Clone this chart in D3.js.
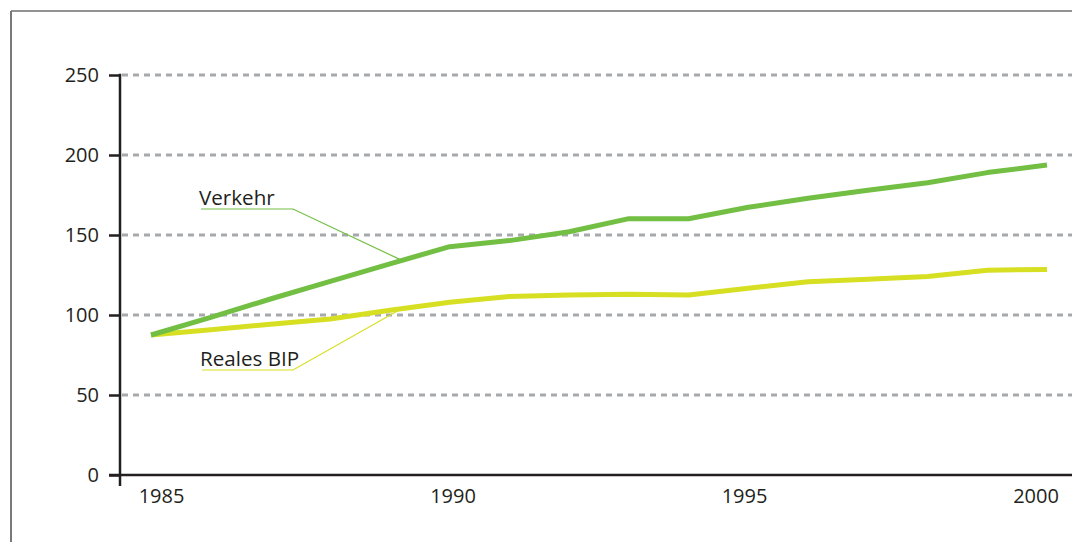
<!DOCTYPE html>
<html lang="de">
<head>
<meta charset="utf-8">
<script src="https://cdn.jsdelivr.net/npm/d3@7"></script>
<style>
  html, body { margin: 0; padding: 0; background: #fff; }
  svg text { font-family: "Open Sans", "Noto Sans", sans-serif; fill: #231f20; }
</style>
</head>
<body>
<svg id="chart" width="1072" height="542"></svg>
<script>
// Jahre und Indexwerte (1985 = Ausgangsniveau)
const years = [1985, 1986, 1987, 1988, 1989, 1990, 1991, 1992, 1993, 1994, 1995, 1996, 1997, 1998, 1999, 2000];
const verkehr = [87.5, 98.5, 110, 121, 132, 142.7, 146.5, 152, 160.2, 160.2, 167.3, 173, 178, 182.7, 189, 193.8];
const realesBIP = [87.5, 90.8, 94.2, 97.5, 103, 108, 111.5, 112.5, 113, 112.5, 116.7, 120.8, 122.3, 124, 128, 128.5];
const yTicks = [0, 50, 100, 150, 200, 250];
const xTickLabels = [1985, 1990, 1995, 2000];

const svg = d3.select("#chart");

const x = d3.scaleLinear().domain([1985, 2000]).range([151, 1047]);
const xLabel = d3.scaleLinear().domain([1985, 2000]).range([161.5, 1036]);
const y = d3.scaleLinear().domain([0, 250]).range([475, 75]);

// Rahmen
svg.append("line").attr("x1", 11).attr("x2", 11).attr("y1", 11).attr("y2", 542)
  .attr("stroke", "#4d4d4f").attr("stroke-width", 1.5);
svg.append("line").attr("x1", 11).attr("x2", 1072).attr("y1", 11).attr("y2", 11)
  .attr("stroke", "#6d6e71").attr("stroke-width", 1.5);

// Gestrichelte Hilfslinien
svg.append("g").selectAll("line")
  .data(yTicks.filter(d => d > 0))
  .join("line")
  .attr("x1", 122).attr("x2", 1072)
  .attr("y1", d => y(d)).attr("y2", d => y(d))
  .attr("stroke", "#a7a9ac").attr("stroke-width", 2.8)
  .attr("stroke-dasharray", "6 5");

// y-Achse
const yAxis = d3.axisLeft(y).tickValues(yTicks).tickSize(11).tickPadding(10).tickSizeOuter(0);
const gy = svg.append("g").attr("transform", "translate(120,0)").call(yAxis);
gy.select(".domain").remove();
gy.selectAll(".tick line").attr("stroke", "#231f20").attr("stroke-width", 2.5);
gy.selectAll(".tick text").attr("font-size", 20).attr("fill", "#231f20")
  .attr("font-family", "'Open Sans', 'Noto Sans', sans-serif");
svg.append("line").attr("x1", 120).attr("x2", 120).attr("y1", y(250) - 1.2).attr("y2", 486)
  .attr("stroke", "#231f20").attr("stroke-width", 2.5);

// x-Achse
svg.append("line").attr("x1", 109).attr("x2", 1072).attr("y1", y(0)).attr("y2", y(0))
  .attr("stroke", "#231f20").attr("stroke-width", 2.5);
svg.append("g").selectAll("text")
  .data(xTickLabels)
  .join("text")
  .attr("x", d => xLabel(d)).attr("y", 503)
  .attr("text-anchor", "middle").attr("font-size", 20)
  .text(d => d);

// Kurven
const line = d3.line().x(d => x(d[0])).y(d => y(d[1]));
const series = [
  { name: "Reales BIP", values: realesBIP, color: "#d7df23" },
  { name: "Verkehr", values: verkehr, color: "#72bf44" }
];
svg.append("g").selectAll("path")
  .data(series)
  .join("path")
  .attr("d", s => line(years.map((yr, i) => [yr, s.values[i]])))
  .attr("fill", "none").attr("stroke", s => s.color)
  .attr("stroke-width", 5).attr("stroke-linejoin", "round");

// Beschriftungen mit Hinweislinien
function leader(label, color, textX, textY, elbowX, targetYear, values) {
  const i = years.indexOf(Math.floor(targetYear));
  const frac = targetYear - years[i];
  const v = values[i] + (values[i + 1] - values[i]) * frac;
  svg.append("polyline")
    .attr("points", [[textX + 2, textY + 4], [elbowX, textY + 4], [x(targetYear), y(v)]].map(p => p.join(",")).join(" "))
    .attr("fill", "none").attr("stroke", color).attr("stroke-width", 1.2);
  svg.append("text").attr("x", textX).attr("y", textY).attr("font-size", 20.6).text(label);
}
leader("Verkehr", "#72bf44", 199, 205, 293, 1989.2, verkehr);
leader("Reales BIP", "#d7df23", 200, 366, 293, 1989.2, realesBIP);
</script>
</body>
</html>
